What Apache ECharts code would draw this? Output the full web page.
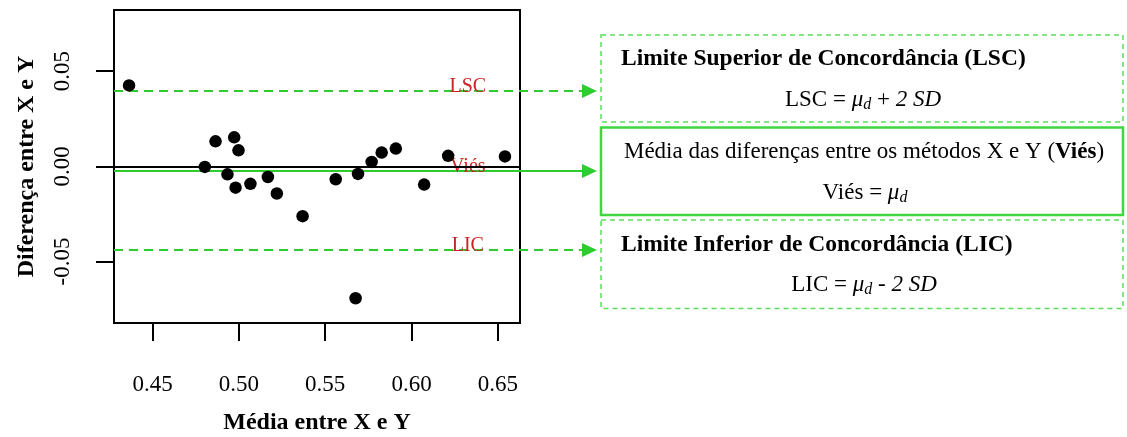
<!DOCTYPE html>
<html>
<head>
<meta charset="utf-8">
<script src="https://cdn.jsdelivr.net/npm/echarts@6/dist/echarts.min.js"></script>
<style>
html,body{margin:0;padding:0;background:#fff;}
#chart{width:1127px;height:437px;}
</style>
</head>
<body>
<div id="chart"></div>
<script>
// ---- data ----
const xMeans = [0.4364, 0.4803, 0.4865, 0.4934, 0.4973, 0.4981, 0.4998, 0.5067, 0.5168, 0.5220,
                0.5369, 0.5561, 0.5676, 0.5690, 0.5769, 0.5827, 0.5909, 0.6073, 0.6212, 0.6541];
const yDiffs = [0.0425, -0.0003, 0.0131, -0.0042, 0.0152, -0.0112, 0.0084, -0.0092, -0.0056, -0.0143,
                -0.0262, -0.0068, -0.0693, -0.0040, 0.0023, 0.0072, 0.0093, -0.0096, 0.0055, 0.0052];
const limitNames = ['LSC', 'Viés', 'LIC'];
const limitValues = [0.0397, -0.0026, -0.0442];
const xTickValues = [0.45, 0.50, 0.55, 0.60, 0.65];
const xTickLabels = ['0.45', '0.50', '0.55', '0.60', '0.65'];
const yTickValues = [-0.05, 0.00, 0.05];
const yTickLabels = ['-0.05', '0.00', '0.05'];
const xTitle = 'Média entre X e Y';
const yTitle = 'Diferença entre X e Y';

// ---- chart ----
const SERIF = '"Liberation Serif", "Times New Roman", serif';
const XMIN = 0.4277, XMAX = 0.6628, YMIN = -0.0823, YMAX = 0.0821;
const LABEL_X = 0.6326;
const GREEN = '#2ecc2e';
const RED = '#cc2222';

const chart = echarts.init(document.getElementById('chart'), null, {renderer: 'canvas'});

const points = xMeans.map((x, i) => [x, yDiffs[i]]);
const limits = limitValues.map((v, i) => [i, v]);

const richFormula = {
  r: {font: '23px ' + SERIF, fill: '#000', lineHeight: 26},
  i: {font: 'italic 23px ' + SERIF, fill: '#000', lineHeight: 26},
  s: {font: 'italic 16px ' + SERIF, fill: '#000', lineHeight: 16, verticalAlign: 'bottom'},
  b: {font: 'bold 23px ' + SERIF, fill: '#000', lineHeight: 26}
};

const option = {
  animation: false,
  backgroundColor: '#fff',
  grid: {left: 114, right: 607, top: 10, bottom: 114, containLabel: false, outerBoundsMode: 'none',
         show: true, borderColor: '#000', borderWidth: 2, backgroundColor: 'transparent'},
  xAxis: {
    type: 'value', min: XMIN, max: XMAX,
    axisLine: {show: false, onZero: false},
    splitLine: {show: false},
    axisTick: {show: true, inside: false, length: 18, customValues: xTickValues, lineStyle: {color: '#000', width: 2}},
    axisLabel: {show: true, customValues: xTickValues, margin: 50, fontSize: 23, fontFamily: SERIF, color: '#000',
      formatter: v => { const i = xTickValues.findIndex(t => Math.abs(t - v) < 1e-9); return i >= 0 ? xTickLabels[i] : ''; }},
    name: xTitle, nameLocation: 'middle', nameGap: 88,
    nameTextStyle: {fontSize: 24, fontWeight: 'bold', fontFamily: SERIF, color: '#000'}
  },
  yAxis: {
    type: 'value', min: YMIN, max: YMAX,
    axisLine: {show: false, onZero: false},
    splitLine: {show: false},
    axisTick: {show: true, inside: false, length: 18, customValues: yTickValues, lineStyle: {color: '#000', width: 2}},
    axisLabel: {show: true, customValues: yTickValues, rotate: 90, margin: 40, fontSize: 23, fontFamily: SERIF, color: '#000',
      formatter: v => { const i = yTickValues.findIndex(t => Math.abs(t - v) < 1e-9); return i >= 0 ? yTickLabels[i] : ''; }},
    name: yTitle, nameLocation: 'middle', nameGap: 75, nameRotate: 90,
    nameTextStyle: {fontSize: 24, fontWeight: 'bold', fontFamily: SERIF, color: '#000'}
  },
  series: [
    {
      type: 'custom',
      coordinateSystem: 'cartesian2d',
      clip: false,
      silent: true,
      z: 3,
      data: limits,
      renderItem: function (params, api) {
        const idx = api.value(0);
        const v = api.value(1);
        const p0 = api.coord([XMIN, v]);
        const pl = api.coord([LABEL_X, v]);
        const y = Math.round(p0[1]);
        const dashed = idx !== 1;
        const tipX = 597, baseX = 582, half = 7;
        return {
          type: 'group',
          children: [
            {type: 'line', shape: {x1: p0[0], y1: y, x2: baseX + 2, y2: y},
             style: {stroke: GREEN, lineWidth: 2, lineDash: dashed ? [9, 6] : null}},
            {type: 'polygon', shape: {points: [[baseX, y - half], [tipX, y], [baseX, y + half]]},
             style: {fill: GREEN}},
            {type: 'text', x: pl[0], y: y - 4,
             style: {text: limitNames[idx], fill: RED, font: '20px ' + SERIF, align: 'center', verticalAlign: 'middle'}}
          ]
        };
      }
    },
    {
      type: 'scatter',
      data: points,
      symbol: 'circle',
      symbolSize: 12.5,
      itemStyle: {color: '#000', opacity: 1},
      z: 4,
      markLine: {
        silent: true, symbol: 'none', animation: false,
        label: {show: false},
        lineStyle: {color: '#000', width: 2, type: 'solid', opacity: 1},
        data: [{yAxis: 0}]
      }
    }
  ],
  graphic: [
    {type: 'rect', shape: {x: 601, y: 35, width: 522, height: 87}, style: {fill: 'none', stroke: '#5ade5a', lineWidth: 1.5, lineDash: [5, 4]}},
    {type: 'rect', shape: {x: 601, y: 127.5, width: 522, height: 87.5}, style: {fill: 'none', stroke: '#3fd63f', lineWidth: 2.5}},
    {type: 'rect', shape: {x: 601, y: 220, width: 522, height: 88.5}, style: {fill: 'none', stroke: '#5ade5a', lineWidth: 1.5, lineDash: [5, 4]}},
    {type: 'text', x: 621, y: 59, style: {text: 'Limite Superior de Concordância (LSC)', font: 'bold 23.5px ' + SERIF, fill: '#000', align: 'left', verticalAlign: 'middle'}},
    {type: 'text', x: 863, y: 100, style: {text: '{r|LSC = }{i|μ}{s|d}{r| + }{i|2 SD}', align: 'center', verticalAlign: 'middle', rich: richFormula}},
    {type: 'text', x: 864, y: 152, style: {text: '{r|Média das diferenças entre os métodos X e Y (}{b|Viés}{r|)}', align: 'center', verticalAlign: 'middle', rich: richFormula}},
    {type: 'text', x: 865, y: 193, style: {text: '{r|Viés = }{i|μ}{s|d}', align: 'center', verticalAlign: 'middle', rich: richFormula}},
    {type: 'text', x: 621, y: 245, style: {text: 'Limite Inferior de Concordância (LIC)', font: 'bold 23.5px ' + SERIF, fill: '#000', align: 'left', verticalAlign: 'middle'}},
    {type: 'text', x: 864, y: 285, style: {text: '{r|LIC = }{i|μ}{s|d}{r| - }{i|2 SD}', align: 'center', verticalAlign: 'middle', rich: richFormula}}
  ]
};
chart.setOption(option);
</script>
</body>
</html>
